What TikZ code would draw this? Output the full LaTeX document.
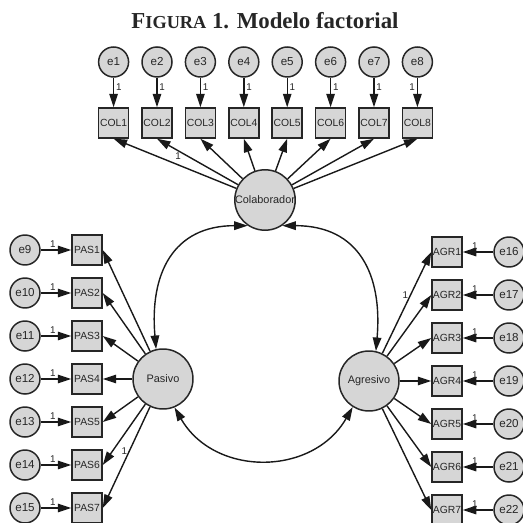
\documentclass[tikz,border=0pt]{standalone}
\usepackage{fontspec}
\setsansfont{Liberation Sans}
\newfontfamily\titlefont{Liberation Serif}
\usetikzlibrary{arrows.meta}

\begin{document}
\begin{tikzpicture}[x=0.02cm,y=0.02cm,
    lat/.style={circle,draw=black!85,line width=.85pt,fill=black!16,minimum size=1.2cm,inner sep=0pt,font=\sffamily\fontsize{6.2}{6}\selectfont,text=black!85},
    err/.style={circle,draw=black!85,line width=.85pt,fill=black!16,minimum size=.6cm,inner sep=0pt,font=\sffamily\fontsize{6.6}{6}\selectfont,text=black!85},
    obs/.style={rectangle,draw=black!85,line width=.85pt,fill=black!16,minimum size=.6cm,inner sep=0pt,font=\sffamily\fontsize{5.9}{6}\selectfont,text=black!85},
    arr/.style={draw=black!90,line width=.8pt,-{Triangle[length=.27cm,width=.17cm]}},
    cov/.style={draw=black!90,line width=.8pt,{Triangle[length=.27cm,width=.17cm]}-{Triangle[length=.27cm,width=.17cm]}},
    one/.style={font=\sffamily\fontsize{5.6}{5}\selectfont,text=black!85,inner sep=1pt}]
  \useasboundingbox (0,0) rectangle (523,-523);
  \node[font=\titlefont\bfseries\fontsize{13}{13}\selectfont,text=black!85] (title) at (265,-21) {F{\fontsize{10.4}{10}\selectfont IGURA} 1. Modelo factorial};
  \node[lat] (col) at (265,-200) {Colaborador};
  \node[lat] (pas) at (163,-379) {Pasivo};
  \node[lat] (agr) at (369,-381) {Agresivo};
  \foreach \i in {1,...,8}{
    \ifnum\i=8 \def\side{left}\else\def\side{right}\fi
    \node[err] (e\i) at ({70.2+43.4*\i},-62) {e\i};
    \node[obs] (col\i) at ({70.2+43.4*\i},-123) {COL\i};
    \draw[arr] (e\i) -- node[one,pos=.32,\side]{1} (col\i);
    \draw[arr] (col) -- (col\i.south);
  }
  \foreach \i in {1,...,7}{
    \pgfmathtruncatemacro\ep{\i+8}
    \pgfmathtruncatemacro\eg{\i+15}
    \node[obs] (pas\i) at (87,{-207-43*\i}) {PAS\i};
    \node[err] (e\ep) at (25,{-207-43*\i}) {e\ep};
    \node[obs] (agr\i) at (447,{-209-43*\i}) {AGR\i};
    \node[err] (e\eg) at (509,{-209-43*\i}) {e\eg};
    \draw[arr] (e\ep) -- node[one,pos=.4,above]{1} (pas\i);
    \draw[arr] (e\eg) -- node[one,pos=.6,above]{1} (agr\i);
    \draw[arr] (pas) -- (pas\i.east);
    \draw[arr] (agr) -- (agr\i.west);
  }
  \path (col) -- (col2.south) node[one,pos=.74,below]{1};
  \path (pas) -- (pas7.east) node[one,pos=.44,left]{1};
  \path (agr) -- (agr1.west) node[one,pos=.57,left]{1};
  \draw[cov] (pas.103) to[out=95,in=180,looseness=1.25] (col.236);
  \draw[cov] (agr.77) to[out=85,in=0,looseness=1.25] (col.304);
  \draw[cov] (pas.292) to[out=-60,in=-120,looseness=1.15] (agr.238);
\end{tikzpicture}
\end{document}
